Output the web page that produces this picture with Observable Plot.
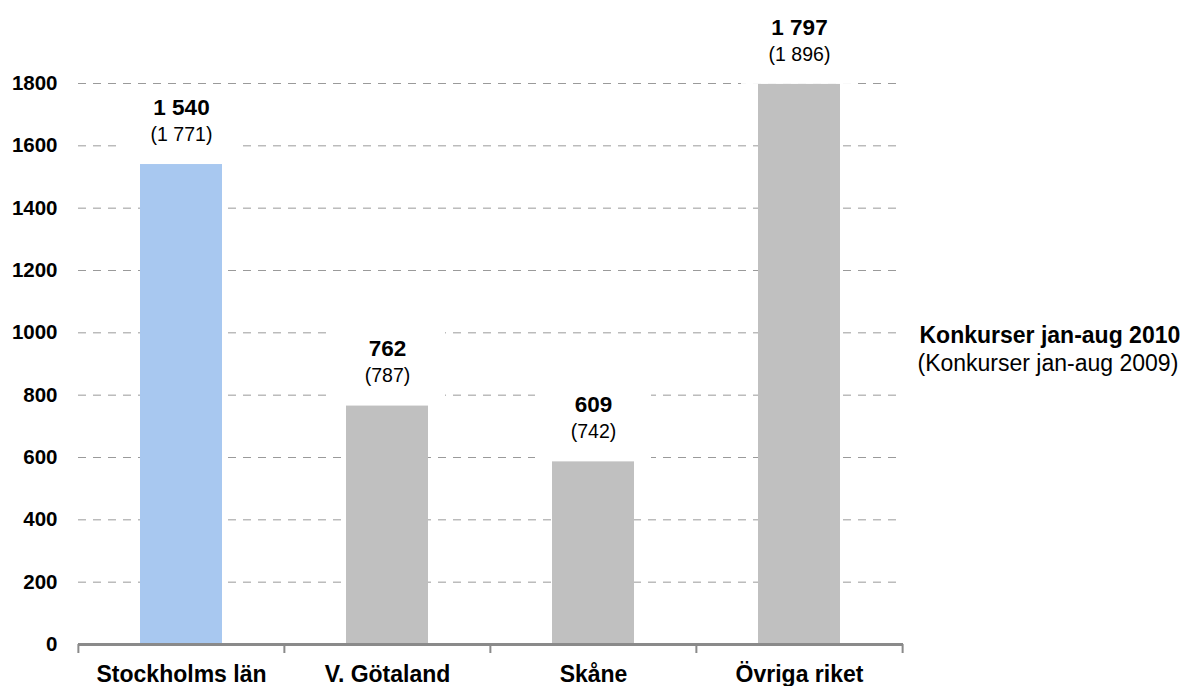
<!DOCTYPE html>
<html>
<head>
<meta charset="utf-8">
<script src="https://cdn.jsdelivr.net/npm/d3@7"></script>
<script src="https://cdn.jsdelivr.net/npm/@observablehq/plot@0.6"></script>
<style>
  html, body { margin: 0; padding: 0; background: #fff; }
  #chart svg { display: block; }
  #chart g[aria-label^="y-axis"] text { font-size: 20.5px !important; font-weight: bold !important; fill: #000; }
  #chart g[aria-label^="x-axis"] text { font-size: 23px !important; font-weight: bold !important; fill: #000; }
</style>
</head>
<body>
<div id="chart"></div>
<script>
// ---- data ----
const categories = ["Stockholms län", "V. Götaland", "Skåne", "Övriga riket"];
const barValues = [1540, 765, 586, 1797];           // bar heights as drawn
const labels2010 = ["1 540", "762", "609", "1 797"]; // bold data labels
const labels2009 = ["(1 771)", "(787)", "(742)", "(1 896)"];
const barColors = ["#a8c8f0", "#c0c0c0", "#c0c0c0", "#c0c0c0"];
const yTicks = [0, 200, 400, 600, 800, 1000, 1200, 1400, 1600, 1800];
const legendLines = ["Konkurser jan-aug 2010", "(Konkurser jan-aug 2009)"];

// ---- layout ----
const W = 1181, H = 686;
const mL = 78, mR = 278, mT = 83, mB = 42;
const yMax = 1800;
const step = (W - mL - mR) / categories.length;
const pxToData = yMax / (H - mT - mB);
const boxPad = 78 * pxToData;

const idx = categories.map((_, i) => i);
const font = "'Liberation Sans', Arial, Helvetica, sans-serif";

const chart = Plot.plot({
  width: W,
  height: H,
  marginLeft: mL,
  marginRight: mR,
  marginTop: mT,
  marginBottom: mB,
  style: { fontFamily: font, background: "#fff", color: "#000" },
  x: { domain: categories, paddingInner: 0.6, paddingOuter: 0.3, tickSize: 0, tickPadding: 21, label: null },
  y: { domain: [0, yMax], ticks: yTicks, tickFormat: d => String(d), tickSize: 0, tickPadding: 21, label: null },
  color: { type: "identity" },
  marks: [
    Plot.ruleY(yTicks.filter(t => t > 0), { stroke: "#9a9a9a", strokeWidth: 1, strokeDasharray: "8,7" }),
    Plot.barY(idx, {
      x: i => categories[i], y1: i => barValues[i], y2: i => barValues[i] + boxPad,
      fill: "#fff", insetLeft: -17, insetRight: -17
    }),
    Plot.barY(idx, { x: i => categories[i], y: i => barValues[i], fill: i => barColors[i] }),
    Plot.ruleY([0], { stroke: "#8a8a8a", strokeWidth: 3 }),
    Plot.ruleX(categories, { x: d => d, y1: 0, y2: 0, insetBottom: -9, dx: -step / 2, stroke: "#8a8a8a", strokeWidth: 2 }),
    Plot.ruleX(categories.slice(-1), { x: d => d, y1: 0, y2: 0, insetBottom: -9, dx: step / 2, stroke: "#8a8a8a", strokeWidth: 2 }),
    Plot.text(idx, {
      x: i => categories[i], y: i => barValues[i], text: i => labels2010[i],
      dy: -57, fontSize: 22.5, fontWeight: "bold", fill: "#000"
    }),
    Plot.text(idx, {
      x: i => categories[i], y: i => barValues[i], text: i => labels2009[i],
      dy: -30, fontSize: 19.5, fill: "#000"
    }),
    Plot.text(legendLines.slice(0, 1), {
      frameAnchor: "right", text: d => d, textAnchor: "start",
      dx: 16, dy: -28, fontSize: 23, fontWeight: "bold", fill: "#000"
    }),
    Plot.text(legendLines.slice(1), {
      frameAnchor: "right", text: d => d, textAnchor: "start",
      dx: 14, dy: 0, fontSize: 23, fill: "#000"
    })
  ]
});

document.getElementById("chart").appendChild(chart);
</script>
</body>
</html>
